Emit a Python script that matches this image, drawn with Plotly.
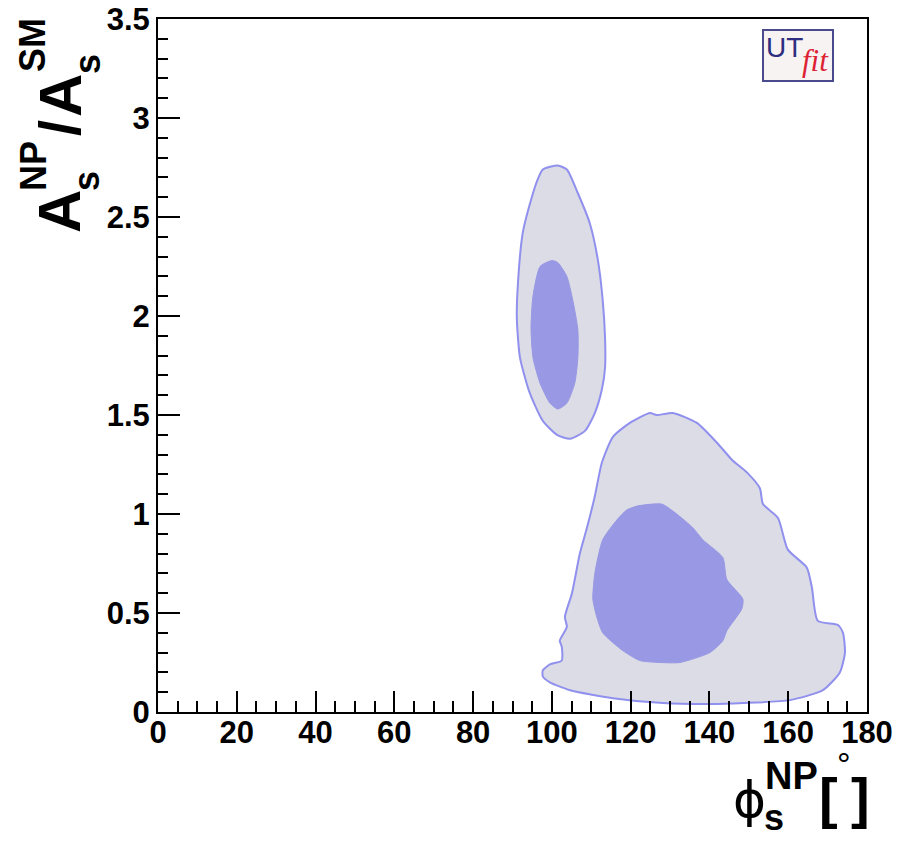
import plotly.graph_objects as go

# ---------------- data ----------------
# upper island, 95% region (phi_s^NP [deg], A_s^NP/A_s^SM)
up95_phi = [97.7, 101.5, 103.8, 106.6, 109.6, 111.7, 112.9, 113.5, 113.5, 112.7, 110.9, 108.4,
            104.6, 101.3, 97.7, 94.4, 91.9, 91.1, 91.4, 92.6, 94.9, 96.4]
up95_a = [2.74, 2.76, 2.74, 2.62, 2.47, 2.28, 2.08, 1.89, 1.74, 1.63, 1.51, 1.42,
          1.38, 1.40, 1.47, 1.61, 1.79, 1.99, 2.17, 2.42, 2.60, 2.69]
# upper island, 68% region
up68_phi = [100.0, 101.5, 103.8, 105.3, 106.6, 106.6, 105.8, 103.8, 101.5, 99.5, 97.0, 95.2,
            94.7, 95.2, 97.0]
up68_a = [2.28, 2.27, 2.20, 2.08, 1.93, 1.79, 1.66, 1.56, 1.53, 1.56, 1.66, 1.79,
          1.94, 2.10, 2.25]
# lower island, 95% region
lo95_phi = [97.7, 99.5, 102.5, 102.5, 102.0, 103.8, 103.3, 105.1, 107.1, 108.9, 110.9, 112.7,
            115.5, 119.8, 124.9, 126.6, 130.7, 136.8, 141.9, 145.9, 149.5, 152.8, 153.6,
            157.4, 159.9, 164.7, 166.0, 167.5, 172.6, 173.9, 174.4, 173.1, 168.8, 160.4,
            148.5, 140.1, 128.2, 115.5, 104.6, 99.5, 97.7]
lo95_a = [0.21, 0.24, 0.26, 0.33, 0.36, 0.43, 0.48, 0.60, 0.80, 0.93, 1.09, 1.26,
          1.39, 1.46, 1.51, 1.50, 1.51, 1.46, 1.36, 1.27, 1.21, 1.13, 1.05,
          0.98, 0.82, 0.73, 0.63, 0.46, 0.44, 0.40, 0.30, 0.20, 0.11, 0.06,
          0.045, 0.04, 0.045, 0.07, 0.11, 0.15, 0.18]
# lower island, 68% region
lo68_phi = [121.6, 127.9, 131.7, 135.8, 138.3, 143.4, 144.4, 148.5, 148.2, 144.4, 143.4, 140.1,
            132.5, 127.4, 122.3, 118.0, 112.9, 111.4, 110.4, 110.9, 112.9, 116.5, 119.0]
lo68_a = [1.04, 1.05, 1.00, 0.93, 0.87, 0.78, 0.67, 0.57, 0.52, 0.41, 0.36, 0.30,
          0.25, 0.25, 0.26, 0.31, 0.40, 0.48, 0.57, 0.70, 0.87, 0.97, 1.02]

x_range = [0, 180]
y_range = [0, 3.5]

# ---------------- styling ----------------
OUT_FILL = "#dcdce7"
OUT_LINE = "#9090ee"
IN_FILL = "#9898e4"
FONT = "Liberation Sans"

W, H = 915, 842
L, R, T, B = 158, 48, 19, 130
PW, PH = W - L - R, H - T - B


def closed(xs, ys):
    return list(xs) + [xs[0]], list(ys) + [ys[0]]


fig = go.Figure()
for xs, ys, fill, line, lw in [
    (up95_phi, up95_a, OUT_FILL, OUT_LINE, 2),
    (lo95_phi, lo95_a, OUT_FILL, OUT_LINE, 2),
    (up68_phi, up68_a, IN_FILL, IN_FILL, 1),
    (lo68_phi, lo68_a, IN_FILL, IN_FILL, 1),
]:
    cx, cy = closed(xs, ys)
    fig.add_trace(go.Scatter(x=cx, y=cy, mode="lines", fill="toself", fillcolor=fill,
                             line=dict(color=line, width=lw, shape="spline", smoothing=0.6),
                             hoverinfo="skip", showlegend=False))


def px2paper(px, py):
    return (px - L) / PW, (H - B - py) / PH


def label(text, px, py, size, angle=0, bold=True, family=FONT, color="black", italic=False):
    xp, yp = px2paper(px, py)
    fig.add_annotation(text=text, x=xp, y=yp, xref="paper", yref="paper",
                       xanchor="center", yanchor="middle", showarrow=False, textangle=angle,
                       font=dict(family=family, size=size, color=color,
                                 weight="bold" if bold else "normal",
                                 style="italic" if italic else "normal"))


# y-axis title  A_s^NP / A_s^SM  (rotated)
label("A", 60, 212, 60, -90)
label("s", 87, 181, 36, -90)
label("NP", 33, 166, 36, -90)
label("/", 60, 128, 58, -90)
label("A", 60, 96, 60, -90)
label("s", 87, 64, 36, -90)
label("SM", 33, 45, 36, -90)

# x-axis title  phi_s^NP [ deg ]
label("ϕ", 749, 800, 50, bold=False, family="DejaVu Sans")
label("NP", 791, 776, 38)
label("s", 774, 817, 36)
label("[", 828, 797, 56)
label("°", 844, 764, 34, bold=False)
label("]", 860, 797, 56)

# UTfit logo
x0, y0 = px2paper(763, 81)
x1, y1 = px2paper(833, 30)
fig.add_shape(type="rect", xref="paper", yref="paper", x0=x0, y0=y0, x1=x1, y1=y1,
              line=dict(color="#4a4a8c", width=2), fillcolor="#f7f3f3", layer="above")
label("UT", 784, 48, 28, bold=False, family=FONT, color="#2e2e80")
label("fit", 815, 60, 31, bold=False, family="Liberation Serif", color="#dd2233", italic=True)

axis_common = dict(showline=True, linecolor="black", linewidth=2, mirror=True,
                   showgrid=False, zeroline=False, ticks="inside", tickcolor="black",
                   tickwidth=2, tickfont=dict(family=FONT, size=31, color="black", weight="bold"))

fig.update_xaxes(range=x_range, dtick=20, tick0=0, ticklen=21,
                 minor=dict(dtick=5, ticklen=11, ticks="inside", tickcolor="black", tickwidth=2),
                 ticklabelstandoff=-8, **axis_common)
fig.update_yaxes(range=y_range, dtick=0.5, tick0=0, ticklen=22,
                 minor=dict(dtick=0.1, ticklen=10, ticks="inside", tickcolor="black", tickwidth=2),
                 ticklabelstandoff=0, **axis_common)

fig.update_layout(width=W, height=H, margin=dict(l=L, r=R, t=T, b=B, autoexpand=False),
                  plot_bgcolor="white", paper_bgcolor="white", showlegend=False)

fig.write_html("out.html")
